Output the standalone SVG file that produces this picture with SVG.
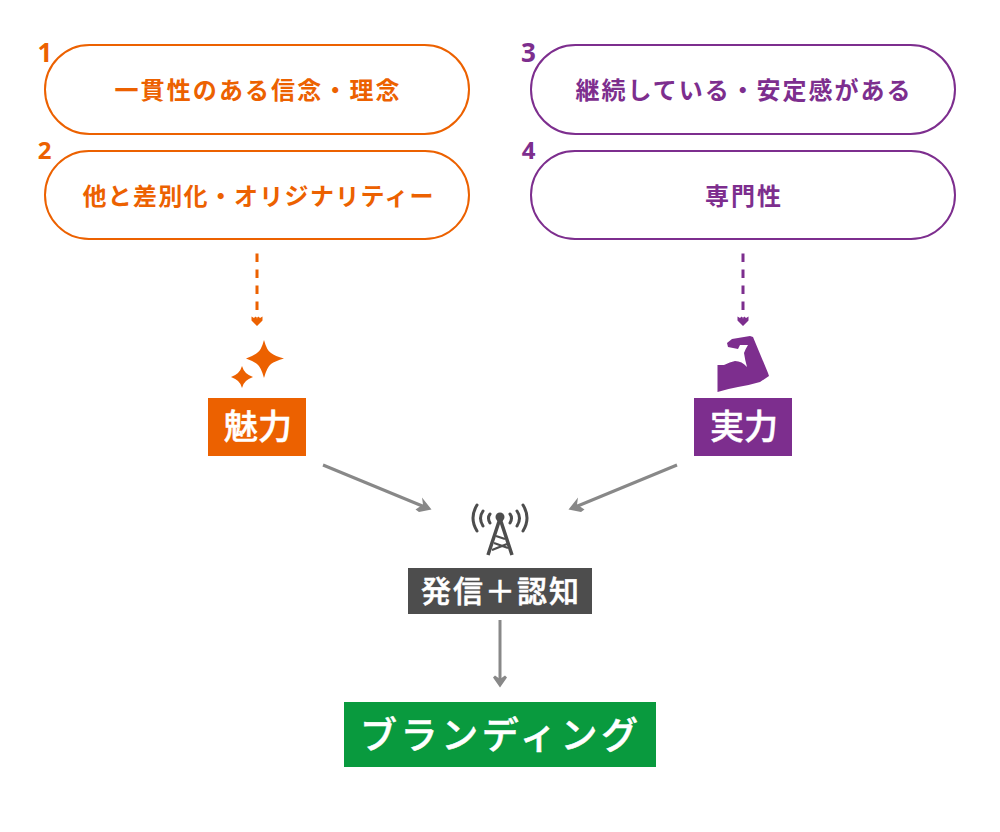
<svg xmlns="http://www.w3.org/2000/svg" width="1000" height="832" viewBox="0 0 1000 832">
<style>
text{font-family:"Noto Sans CJK JP","Noto Sans",sans-serif;font-weight:700;text-anchor:middle}
.pill{fill:#fff;stroke-width:2}
.o .pill{stroke:#ec6100}.o text{fill:#ec6100}
.p .pill{stroke:#7d2e8e}.p text{fill:#7d2e8e}
.pt{font-size:24px}
.num{font-family:"Open Sans","Noto Sans",sans-serif;font-weight:700}
.w{fill:#fff;font-weight:500;stroke:#fff;stroke-width:.5px}
</style>
<defs>
<path id="dh" d="M-5.500-4.500 L-3-3 L-1.500-4.500 L0-2.500 L1.500-4.500 L3-3 L5.500-4.500 L5.500-0.500 L0 5 L-5.500-0.500Z"/>
</defs>
<g id="connectors">
<g fill="none" stroke-width="3" stroke-dasharray="8.500 7.500">
<path d="M257 253.500V318" stroke="#ec6100"/>
<path d="M743 253.500V318" stroke="#7d2e8e"/>
</g>
<use href="#dh" x="257" y="321" fill="#ec6100"/>
<use href="#dh" x="743" y="321" fill="#7d2e8e"/>
<g fill="none" stroke="#888" stroke-width="3">
<path d="M323 465L426 507.500"/>
<path d="M677 465L574 507.500"/>
<path d="M500 620V682"/>
</g>
<g fill="#888">
<path d="M431.500 509.500L422 497.500L423 504.500L415.500 509.500L419 512Z"/>
<path d="M568.500 509.500L578 497.500L577 504.500L584.500 509.500L581 512Z"/>
<path d="M500 687.500L493 677.500L495 675.500L500 679L505 675.500L507 677.500Z"/>
</g>
</g>
<g id="n1" class="o"><rect class="pill" x="45" y="45" width="424" height="89" rx="44.500"/><text class="num" x="45" y="62" font-size="26">1</text><text class="pt" x="257" y="98.500" textLength="285" lengthAdjust="spacing">一貫性のある信念・理念</text></g>
<g id="n2" class="o"><rect class="pill" x="45" y="151" width="424" height="88" rx="44"/><text class="num" x="44.500" y="159" font-size="24">2</text><text class="pt" x="258" y="204.500" textLength="351" lengthAdjust="spacing">他と差別化・オリジナリティー</text></g>
<g id="n3" class="p"><rect class="pill" x="531" y="45" width="424" height="89" rx="44.500"/><text class="num" x="528.500" y="62" font-size="26">3</text><text class="pt" x="743" y="98.500" textLength="335" lengthAdjust="spacing">継続している・安定感がある</text></g>
<g id="n4" class="p"><rect class="pill" x="531" y="151" width="424" height="88" rx="44"/><text class="num" x="528.500" y="159" font-size="24">4</text><text class="pt" x="743" y="204.500" textLength="76" lengthAdjust="spacing">専門性</text></g>
<g id="n5">
<path d="M264 340Q267 351 271 353Q275 356 284 358.500Q275 361 271 364Q267 367 264 378Q261 367 257 364Q253 361 246 358.500Q253 356 257 353Q261 351 264 340Z" fill="#ec6100"/>
<path d="M242 366Q243.500 371 246 373Q248 375 253 377Q248 379 246 381Q243.500 383 242 388Q240.500 383 238 381Q236 379 231 377Q236 375 238 373Q240.500 371 242 366Z" fill="#ec6100"/>
<rect x="208" y="398" width="98" height="58" fill="#ec6100"/><text class="w" x="258" y="439" font-size="34">魅力</text></g>
<g id="n6">
<path d="M717.500 392L717.500 365L724 365Q730 362 735 361Q742 361 747 367Q745 360 744 353Q746 348 748 345L740 345L738 349L728 347L727 343L732 339L750 336L753 337L768 373L769 376L760 382Q750 385 738 387Q727 389 717.500 392Z" fill="#7d2e8e"/>
<rect x="694" y="398" width="98" height="58" fill="#7d2e8e"/><text class="w" x="744" y="439" font-size="34">実力</text></g>
<g id="n7">
<g fill="none" stroke="#4d4d4d" stroke-width="3" stroke-linecap="round">
<path d="M477 505Q469 518 477 531M483 511Q478 518 483 526M490 514Q487 518 490 523M510 514Q513 518 510 523M517 511Q522 518 517 526M523 505Q531 518 523 531"/>
</g>
<circle cx="500" cy="517" r="4.500" fill="#4d4d4d"/>
<g fill="none" stroke="#4d4d4d">
<path stroke-width="3.500" d="M499.500 520L488 555M500.500 520L512 555"/>
<path stroke-width="2.200" d="M496 536L505 539M494 543L508 548M492 550L507 544"/>
</g>
<rect x="408" y="568" width="184" height="46" fill="#4d4d4d"/><text class="w" x="500" y="602" font-size="30" textLength="158" lengthAdjust="spacing">発信＋認知</text></g>
<g id="n8"><rect x="344" y="702" width="312" height="65" fill="#099a3e"/><text class="w" x="499" y="749" font-size="37" textLength="278" lengthAdjust="spacing">ブランディング</text></g>
</svg>
